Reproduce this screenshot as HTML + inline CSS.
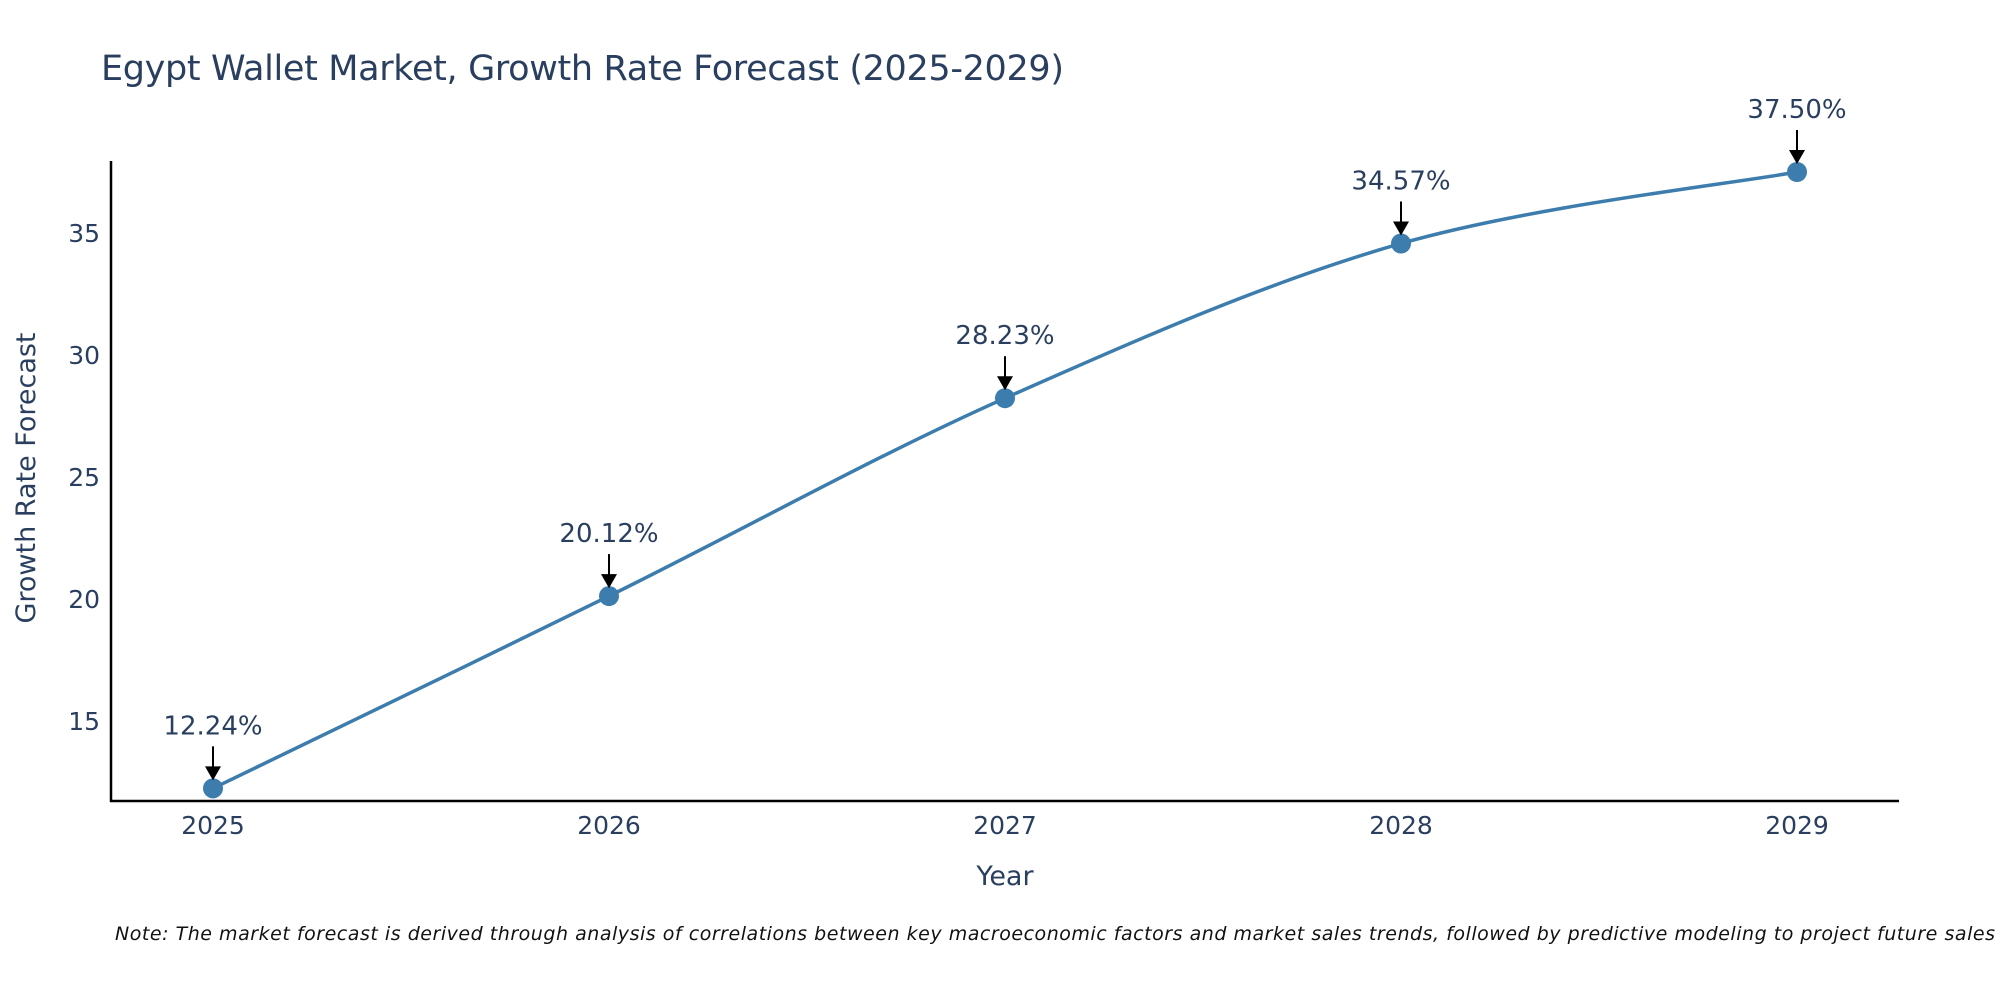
<!DOCTYPE html>
<html><head><meta charset="utf-8"><style>
body{margin:0;background:#fff;}
svg text{font-family:"DejaVu Sans","Liberation Sans",sans-serif;fill:#2a3f5f;}
</style></head><body>
<svg id="chart" width="2000" height="1000" viewBox="0 0 2000 1000">
<text x="101" y="80" font-size="35" textLength="963">Egypt Wallet Market, Growth Rate Forecast (2025-2029)</text>
<g id="axes"></g>
<g id="plot"></g>
<text x="1005" y="885" font-size="27" text-anchor="middle">Year</text>
<text x="0" y="0" font-size="27" text-anchor="middle" transform="translate(35,478) rotate(-90)">Growth Rate Forecast</text>
<text x="115" y="940" font-size="19" font-style="italic" style="fill:#111" textLength="1880">Note: The market forecast is derived through analysis of correlations between key macroeconomic factors and market sales trends, followed by predictive modeling to project future sales</text>
</svg>
<script>
const years = [2025, 2026, 2027, 2028, 2029];
const values = [12.24, 20.12, 28.23, 34.57, 37.50];
const valueLabels = ["12.24%", "20.12%", "28.23%", "34.57%", "37.50%"];
const yTicks = [15, 20, 25, 30, 35];

const NS = "http://www.w3.org/2000/svg";
const x = v => 213 + (v - 2025) * (1797 - 213) / 4;
const y = v => 721 - (v - 15) * 24.4;
function mk(tag, attrs, parent, txt) {
  const e = document.createElementNS(NS, tag);
  for (const k in attrs) e.setAttribute(k, attrs[k]);
  if (txt !== undefined) e.textContent = txt;
  parent.appendChild(e);
  return e;
}
const axes = document.getElementById("axes");
const plot = document.getElementById("plot");

const yAxis = mk("line", {x1: 111, y1: 161, x2: 111, y2: 802, stroke: "#000", "stroke-width": 2.5}, axes);


const xAxis = mk("line", {x1: 110, y1: 801, x2: 1899, y2: 801, stroke: "#000", "stroke-width": 2.5}, axes);



yTicks.forEach(t => {
  const el = mk("text", {x: 100, y: y(t) + 9, "font-size": 25, "text-anchor": "end"}, axes, String(t));
  
  
});
years.forEach(t => {
  const el = mk("text", {x: x(t), y: 834, "font-size": 25, "text-anchor": "middle"}, axes, String(t));
  
  
});

const pts = years.map((yr, i) => [x(yr), y(values[i])]);
let d = `M${pts[0][0]},${pts[0][1]}`;
for (let i = 0; i < pts.length - 1; i++) {
  const p0 = pts[i - 1] || pts[i], p1 = pts[i], p2 = pts[i + 1], p3 = pts[i + 2] || pts[i + 1];
  const t = 1 / 6;
  const c1 = [p1[0] + (p2[0] - p0[0]) * t, p1[1] + (p2[1] - p0[1]) * t];
  const c2 = [p2[0] - (p3[0] - p1[0]) * t, p2[1] - (p3[1] - p1[1]) * t];
  d += ` C${c1[0]},${c1[1]} ${c2[0]},${c2[1]} ${p2[0]},${p2[1]}`;
}
const line = mk("path", {d: d, fill: "none", stroke: "#3d7dad", "stroke-width": 3.5}, plot);



pts.forEach((p, i) => {
  const c = mk("circle", {cx: p[0], cy: p[1], r: 10, fill: "#3d7dad"}, plot);
  
  
  const a = mk("line", {x1: p[0], y1: p[1] - 42, x2: p[0], y2: p[1] - 18, stroke: "#000", "stroke-width": 2}, plot);
  
  
  const h = mk("polygon", {points: `${p[0] - 8},${p[1] - 22} ${p[0] + 8},${p[1] - 22} ${p[0]},${p[1] - 8}`, fill: "#000"}, plot);
  
  
  const tx = mk("text", {x: p[0], y: p[1] - 54, "font-size": 26, "text-anchor": "middle"}, plot, valueLabels[i]);
  
  
});
</script>
</body></html>
